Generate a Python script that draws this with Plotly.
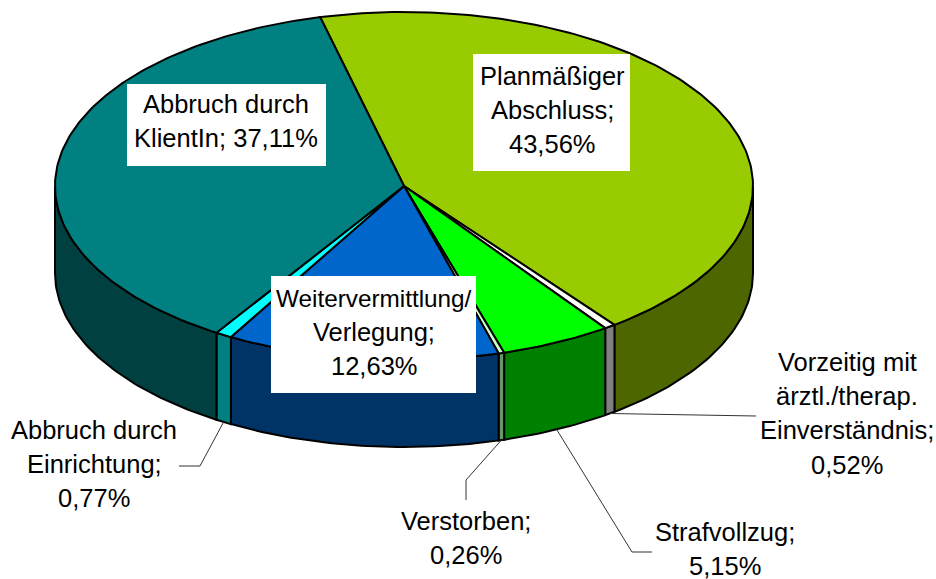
import math
import plotly.graph_objects as go

categories = ["Planmäßiger Abschluss", "Vorzeitig mit ärztl./therap. Einverständnis", "Strafvollzug",
              "Verstorben", "Weitervermittlung/ Verlegung", "Abbruch durch Einrichtung", "Abbruch durch KlientIn"]
values = [43.56, 0.52, 5.15, 0.26, 12.63, 0.77, 37.11]
top_colors = ["#99cc00", "#ffffff", "#00ff00", "#ccffcc", "#0066cc", "#00ffff", "#008080"]
side_colors = ["#4d6600", "#808080", "#008000", "#669966", "#003366", "#008080", "#004040"]
label_lines = [["Planmäßiger", "Abschluss;", "43,56%"],
               ["Vorzeitig mit", "ärztl./therap.", "Einverständnis;", "0,52%"],
               ["Strafvollzug;", "5,15%"],
               ["Verstorben;", "0,26%"],
               ["Weitervermittlung/", "Verlegung;", "12,63%"],
               ["Abbruch durch", "Einrichtung;", "0,77%"],
               ["Abbruch durch", "KlientIn; 37,11%"]]

CX, CY, RX, RY, DEPTH, START = 404, 186, 349, 174, 87, -13.9
LINE_H = 34.2
FONT_SIZE = 25.5
FONT_FAMILY = "Liberation Sans, Arial, sans-serif"
NARROW = {"Weitervermittlung/": 24.3}
# label layout: centre x, y of first line
label_pos = [(552, 76), (847, 362), (725, 532), (466, 521), (374, 298), (94, 430), (226, 104)]
boxes = {0: (473, 54, 630, 171), 4: (271, 276, 476, 393), 6: (127, 84, 326, 166)}
# leader routing after the rim anchor point
leaders = {1: [(756, 416)], 2: [(632, 552), (652, 552)],
           3: [(466, 480), (466, 500)], 5: [(200, 466), (179, 466)]}


def rim(t, drop=0):
    a = math.radians(t)
    return CX + RX * math.sin(a), CY - RY * math.cos(a) + drop


def arc(a, b):
    n = max(2, int(abs(b - a)) + 2)
    return [a + (b - a) * i / (n - 1) for i in range(n)]


fig = go.Figure()
edges = [START]
for v in values:
    edges.append(edges[-1] + v * 3.6)

# sides first (visible front half only)
for i, cat in enumerate(categories):
    a, b = max(edges[i], 90), min(edges[i + 1], 270)
    if b <= a:
        continue
    ts = arc(a, b)
    pts = [rim(t) for t in ts] + [rim(t, DEPTH) for t in reversed(ts)]
    xs, ys = zip(*pts)
    fig.add_trace(go.Scatter(x=list(xs) + [xs[0]], y=list(ys) + [ys[0]], mode="lines", fill="toself",
                             fillcolor=side_colors[i], line=dict(color="#000000", width=2),
                             hoverinfo="text", text=cat, showlegend=False))

# top wedges
for i, cat in enumerate(categories):
    pts = [(CX, CY)] + [rim(t) for t in arc(edges[i], edges[i + 1])] + [(CX, CY)]
    xs, ys = zip(*pts)
    fig.add_trace(go.Scatter(x=list(xs), y=list(ys), mode="lines", fill="toself",
                             fillcolor=top_colors[i], line=dict(color="#000000", width=2),
                             hoverinfo="text", text=cat, showlegend=False))

# leader lines
for i, pts in leaders.items():
    mid = (edges[i] + edges[i + 1]) / 2
    p0 = rim(mid, DEPTH)
    xs, ys = zip(*([p0] + pts))
    fig.add_trace(go.Scatter(x=list(xs), y=list(ys), mode="lines", line=dict(color="#333333", width=1),
                             hoverinfo="skip", showlegend=False))

shapes = [dict(type="rect", x0=b[0], y0=b[1], x1=b[2], y1=b[3], xref="x", yref="y",
               fillcolor="#ffffff", line=dict(width=0), layer="above") for b in boxes.values()]

annotations = []
for (cx, y0), lines in zip(label_pos, label_lines):
    for k, line in enumerate(lines):
        annotations.append(dict(x=cx, y=y0 + k * LINE_H, xref="x", yref="y", text=line, showarrow=False,
                                xanchor="center", yanchor="middle",
                                font=dict(family=FONT_FAMILY, size=NARROW.get(line, FONT_SIZE), color="#000000")))

fig.update_layout(width=936, height=579, margin=dict(l=0, r=0, t=0, b=0), paper_bgcolor="#ffffff",
                  plot_bgcolor="#ffffff", showlegend=False, shapes=shapes, annotations=annotations,
                  xaxis=dict(range=[0, 936], visible=False, fixedrange=True),
                  yaxis=dict(range=[579, 0], visible=False, fixedrange=True))
fig.write_html("out.html", config=dict(displayModeBar=False),
               post_script="document.body.style.margin='0';document.documentElement.style.overflow='hidden';")
